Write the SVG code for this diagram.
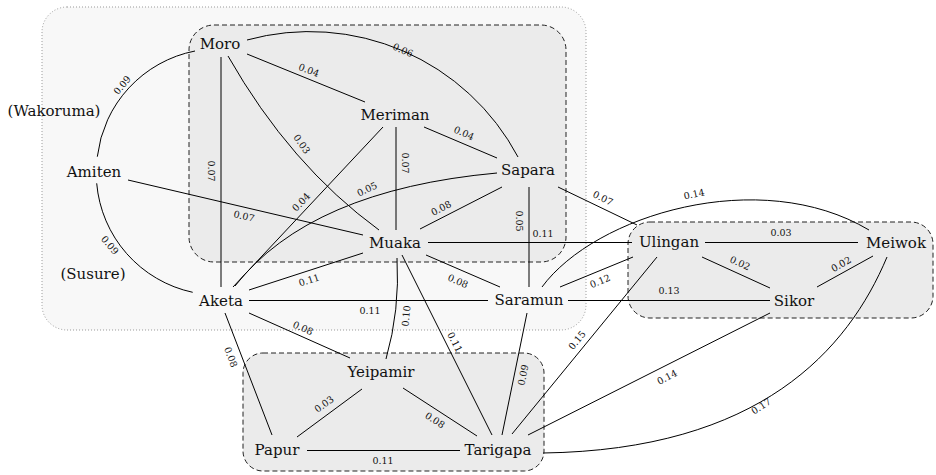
<svg xmlns="http://www.w3.org/2000/svg" width="936" height="475" viewBox="0 0 936 475">
<style>
.node{font-family:"DejaVu Serif","Liberation Serif",serif;font-size:15px;fill:#111;text-anchor:middle}
.lbl{font-family:"DejaVu Serif","Liberation Serif",serif;font-size:9.5px;fill:#111;text-anchor:middle;dominant-baseline:central}
.e{fill:none;stroke:#000;stroke-width:1}
.outer{fill:#f8f8f8;stroke:#999;stroke-width:1;stroke-dasharray:1 2}
.grp{fill:#ebebeb;stroke:#222;stroke-width:1;stroke-dasharray:5 3}
</style>
<rect width="936" height="475" fill="#fff"/>
<g id="groups">
<rect class="outer" x="42" y="7" width="544" height="323" rx="25"/>
<rect class="grp" x="189" y="25" width="377" height="237" rx="25"/>
<rect class="grp" x="628" y="222" width="305" height="96" rx="22"/>
<rect class="grp" x="243" y="353" width="301" height="118" rx="20"/>
</g>
<g id="connectors">
<path class="e" d="M195,51 A122,122 0 0 0 97.3,156.7"/>
<text class="lbl" transform="translate(122,85) rotate(-50)">0.09</text>
<path class="e" d="M96.7,183.3 A122,122 0 0 0 192.7,292.3"/>
<text class="lbl" transform="translate(110,245) rotate(50)">0.09</text>
<path class="e" d="M247,54 L365,102"/>
<text class="lbl" transform="translate(309,70) rotate(21)">0.04</text>
<path class="e" d="M247,40 A236,236 0 0 1 518,157"/>
<text class="lbl" transform="translate(403,50) rotate(23)">0.06</text>
<path class="e" d="M221,57 L221,287"/>
<text class="lbl" transform="translate(211,171) rotate(90)">0.07</text>
<path class="e" d="M228,56 Q290,165 379,230"/>
<text class="lbl" transform="translate(302,144) rotate(55)">0.03</text>
<path class="e" d="M424,127 L497,158"/>
<text class="lbl" transform="translate(464,133) rotate(24)">0.04</text>
<path class="e" d="M396,127 L396,230"/>
<text class="lbl" transform="translate(405,163) rotate(90)">0.07</text>
<path class="e" d="M383,127 L233,287"/>
<text class="lbl" transform="translate(301,202) rotate(-47)">0.04</text>
<path class="e" d="M235,286 Q310,190 497,173"/>
<text class="lbl" transform="translate(367,189) rotate(-25)">0.05</text>
<path class="e" d="M128,180 L363,235"/>
<text class="lbl" transform="translate(244,216) rotate(13)">0.07</text>
<path class="e" d="M502,187 L420,229"/>
<text class="lbl" transform="translate(441,208) rotate(-27)">0.08</text>
<path class="e" d="M529,187 L529,287"/>
<text class="lbl" transform="translate(519,221) rotate(90)">0.05</text>
<path class="e" d="M558,187 L637,225"/>
<text class="lbl" transform="translate(603,198) rotate(26)">0.07</text>
<path class="e" d="M428,242.5 L632,242.5"/>
<text class="lbl" transform="translate(543,233)">0.11</text>
<path class="e" d="M363,253 L249,290"/>
<text class="lbl" transform="translate(309,280) rotate(-18)">0.11</text>
<path class="e" d="M426,255 L500,287"/>
<text class="lbl" transform="translate(458,281) rotate(23)">0.08</text>
<path class="e" d="M397,258 Q400,310 386,359"/>
<text class="lbl" transform="translate(406,316) rotate(-85)">0.10</text>
<path class="e" d="M402,255 L492,435"/>
<text class="lbl" transform="translate(455,342) rotate(63)">0.11</text>
<path class="e" d="M249,300.5 L488,300.5"/>
<text class="lbl" transform="translate(370,310)">0.11</text>
<path class="e" d="M249,313 L350,358"/>
<text class="lbl" transform="translate(303,328) rotate(24)">0.08</text>
<path class="e" d="M225,313 L272,435"/>
<text class="lbl" transform="translate(231,357) rotate(69)">0.08</text>
<path class="e" d="M560,287 L633,257"/>
<text class="lbl" transform="translate(600,281) rotate(-22)">0.12</text>
<path class="e" d="M568,300.5 L770,300.5"/>
<text class="lbl" transform="translate(669,290)">0.13</text>
<path class="e" d="M542,287 C595,215 760,165 869,230"/>
<text class="lbl" transform="translate(694,194) rotate(-12)">0.14</text>
<path class="e" d="M527,313 L502,435"/>
<text class="lbl" transform="translate(523,375) rotate(-78)">0.09</text>
<path class="e" d="M657,257 L512,434"/>
<text class="lbl" transform="translate(577,340) rotate(-51)">0.15</text>
<path class="e" d="M770,313 L528,435"/>
<text class="lbl" transform="translate(667,377) rotate(-27)">0.14</text>
<path class="e" d="M887,257 C848,350 760,450 543,453"/>
<text class="lbl" transform="translate(761,406) rotate(-33)">0.17</text>
<path class="e" d="M705,242.5 L858,242.5"/>
<text class="lbl" transform="translate(781,232)">0.03</text>
<path class="e" d="M702,257 L770,288"/>
<text class="lbl" transform="translate(740,263) rotate(25)">0.02</text>
<path class="e" d="M817,287 L873,256"/>
<text class="lbl" transform="translate(841,264) rotate(-29)">0.02</text>
<path class="e" d="M362,389 L297,437"/>
<text class="lbl" transform="translate(324,404) rotate(-36)">0.03</text>
<path class="e" d="M403,388 L477,436"/>
<text class="lbl" transform="translate(435,420) rotate(33)">0.08</text>
<path class="e" d="M307,450.5 L460,450.5"/>
<text class="lbl" transform="translate(383,460)">0.11</text>
</g>
<g id="nodes">
<g id="n-moro"><text class="node" x="220" y="49">Moro</text></g>
<g id="n-meriman"><text class="node" x="395" y="120">Meriman</text></g>
<g id="n-sapara"><text class="node" x="528" y="175">Sapara</text></g>
<g id="n-wakoruma"><text class="node" x="54" y="116">(Wakoruma)</text></g>
<g id="n-amiten"><text class="node" x="94" y="177">Amiten</text></g>
<g id="n-muaka"><text class="node" x="395" y="248">Muaka</text></g>
<g id="n-ulingan"><text class="node" x="669" y="247">Ulingan</text></g>
<g id="n-meiwok"><text class="node" x="896" y="248">Meiwok</text></g>
<g id="n-susure"><text class="node" x="93" y="279">(Susure)</text></g>
<g id="n-aketa"><text class="node" x="221" y="306">Aketa</text></g>
<g id="n-saramun"><text class="node" x="529" y="305">Saramun</text></g>
<g id="n-sikor"><text class="node" x="794" y="306">Sikor</text></g>
<g id="n-yeipamir"><text class="node" x="381" y="377">Yeipamir</text></g>
<g id="n-papur"><text class="node" x="277" y="455">Papur</text></g>
<g id="n-tarigapa"><text class="node" x="498" y="455">Tarigapa</text></g>
</g>
</svg>
